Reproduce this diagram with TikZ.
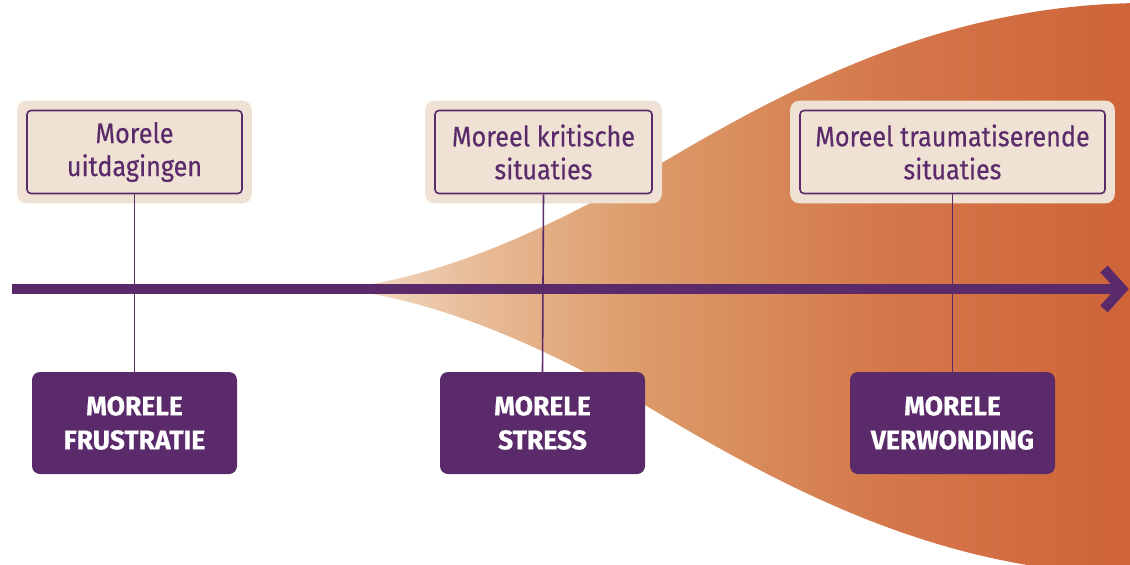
\documentclass[tikz,border=0pt]{standalone}
\usepackage{fontspec}
\setmainfont{Fira Sans}
\newfontfamily\cond{Fira Sans}[FakeStretch=0.9, FakeBold=0.4]
\newfontfamily\heavy{Fira Sans}[FakeStretch=0.98, FakeBold=0.6]
\usetikzlibrary{fit,backgrounds}
\definecolor{purp}{HTML}{5B2A6A}
\definecolor{beige}{HTML}{EFE2D5}
\definecolor{fanA}{HTML}{F3DFCC}
\definecolor{fanB}{HTML}{E8BC98}
\definecolor{fanC}{HTML}{DC9A68}
\definecolor{fanD}{HTML}{D4764A}
\definecolor{fanE}{HTML}{CF6338}
\pgfdeclarehorizontalshading{fanshade}{100bp}{color(0bp)=(fanA); color(25bp)=(fanA);
  color(33.75bp)=(fanB); color(44.4bp)=(fanC); color(60bp)=(fanD); color(75bp)=(fanE); color(100bp)=(fanE)}
\tikzset{
  topbox/.style={draw=purp, line width=1.6pt, fill=beige, rounded corners=4pt,
    text=purp, align=center, inner sep=0pt,
    minimum height=83pt, font=\cond\fontsize{28}{33}\selectfont},
  outerbox/.style={fill=beige, rounded corners=9pt, inner sep=9pt},
  botbox/.style={fill=purp, rounded corners=8pt, text=white, align=center,
    minimum width=205pt, minimum height=102pt, inner sep=0pt,
    font=\heavy\bfseries\fontsize{27}{34}\selectfont},
  vline/.style={draw=purp, line width=1.6pt},
  axis/.style={draw=purp, line width=10pt}
}
\begin{document}
\begin{tikzpicture}[x=1pt,y=-1pt]
\useasboundingbox (0,0) rectangle (1130,565);
\begin{scope}[on background layer]
\clip (0,0) rectangle (1130,565);
\shade[shading=fanshade]
  (335,289) .. controls (425,281) and (530,240) .. (650,170)
  .. controls (800,80) and (950,5) .. (1140,3)
  -- (1140,575)
  .. controls (950,573) and (800,498) .. (650,408)
  .. controls (530,338) and (425,297) .. (335,289) -- cycle;
\end{scope}
% axis
\coordinate (a0) at (12,289);
\coordinate (a1) at (1120,289);
\coordinate (tip) at (1122,289);
\coordinate (h1) at (1104,269);
\coordinate (h2) at (1104,309);
\draw[axis] (a0) -- (a1);
\draw[axis, line join=miter, miter limit=4] (h1) -- (tip) -- (h2);
% top boxes (inner)
\node[topbox, minimum width=215pt] (t1) at (134.5,152) {Morele\\uitdagingen};
\node[topbox, minimum width=217pt] (t2) at (543.5,152) {Moreel kritische\\situaties};
\node[topbox, minimum width=305pt] (t3) at (952.5,152) {Moreel traumatiserende\\situaties};
% bottom boxes
\node[botbox] (b1) at (134.5,423) {MORELE\\FRUSTRATIE};
\node[botbox] (b2) at (542.5,423) {MORELE\\STRESS};
\node[botbox] (b3) at (952.5,423) {MORELE\\VERWONDING};
% vertical lines
\draw[vline] (t1.south) -- (b1.north);
\draw[vline] (t2.south) -- (b2.north);
\draw[vline] (t3.south) -- (b3.north);
% outer boxes
\begin{scope}[on background layer]
\node[outerbox, fit=(t1)] (o1) {};
\node[outerbox, fit=(t2)] (o2) {};
\node[outerbox, fit=(t3)] (o3) {};
\end{scope}
\end{tikzpicture}
\end{document}
